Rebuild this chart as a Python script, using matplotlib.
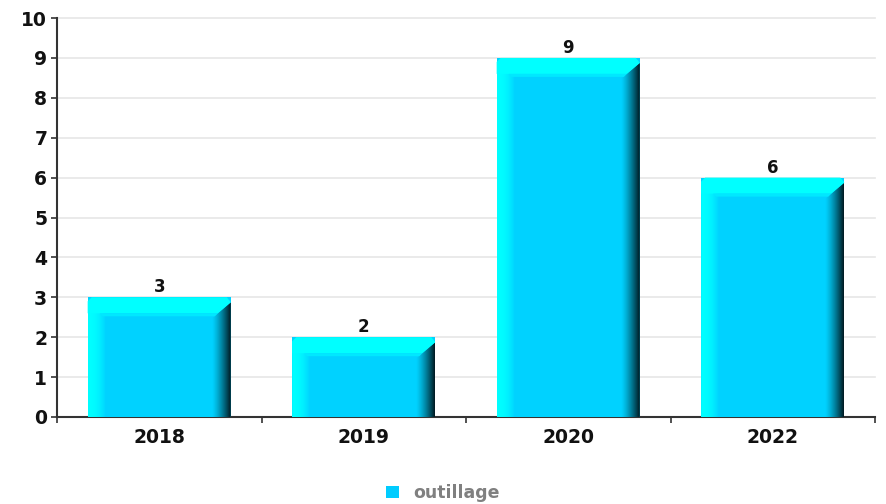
import matplotlib
matplotlib.use("Agg")
import matplotlib.pyplot as plt
import numpy as np
from matplotlib.patches import Polygon, Patch
from matplotlib.colors import to_rgb

categories = ["2018", "2019", "2020", "2022"]
values = [3, 2, 9, 6]
series_name = "outillage"

W, H, DPI = 886, 504, 100
fig = plt.figure(figsize=(W / DPI, H / DPI), dpi=DPI)
ax_l, ax_r, ax_t, ax_b = 57, 875, 18, 417
ax = fig.add_axes([ax_l / W, (H - ax_b) / H, (ax_r - ax_l) / W, (ax_b - ax_t) / H])

xlim = (-0.5, len(categories) - 0.5)
ylim = (0, 10)
px_x = (xlim[1] - xlim[0]) / (ax_r - ax_l)
px_y = (ylim[1] - ylim[0]) / (ax_b - ax_t)

main = "#00D2FF"
light = "#00FFFF"
dark = "#001820"
bar_w = 0.70

xs = np.arange(len(categories))
bars = ax.bar(xs, values, width=bar_w, color=main, zorder=3, linewidth=0)

def gradient(ax, x0, x1, y0, y1, c0, c1, clip, power=1.0):
    c0, c1 = np.array(to_rgb(c0)), np.array(to_rgb(c1))
    t = (np.linspace(0, 1, 64) ** power)[None, :, None]
    img = c0 * (1 - t) + c1 * t
    im = ax.imshow(img, extent=[x0, x1, y0, y1], aspect="auto", zorder=3.5,
                   interpolation="bilinear")
    im.set_clip_path(clip)

for b in bars:
    L = b.get_x()
    R = L + b.get_width()
    T = b.get_height()
    B = 0
    # left band gradient
    lp = Polygon([(L, B), (L + 18 * px_x, B), (L + 18 * px_x, T - 16 * px_y), (L, T - 4 * px_y)],
                 closed=True, facecolor="none", edgecolor="none", transform=ax.transData)
    ax.add_patch(lp)
    gradient(ax, L, L + 18 * px_x, B, T, light, main, lp, power=2.2)
    # top band
    top = Polygon([(L, T - 4 * px_y), (L + 4 * px_x, T), (R - 4 * px_x, T), (R, T - 5 * px_y),
                   (R - 13 * px_x, T - 16 * px_y), (L + 12 * px_x, T - 16 * px_y), (L, T - 16 * px_y)],
                  closed=True, facecolor=light, edgecolor="none", zorder=4)
    ax.add_patch(top)
    # soft transition below top band
    tp = Polygon([(L + 12 * px_x, T - 16 * px_y), (R - 13 * px_x, T - 16 * px_y),
                  (R - 16 * px_x, T - 19 * px_y), (L + 15 * px_x, T - 19 * px_y)],
                 closed=True, facecolor="#00E8FF", edgecolor="none", zorder=4)
    ax.add_patch(tp)
    # right band gradient
    rp = Polygon([(R - 19 * px_x, B), (R, B), (R, T - 5 * px_y), (R - 19 * px_x, T - 21 * px_y)],
                 closed=True, facecolor="none", edgecolor="none", transform=ax.transData)
    ax.add_patch(rp)
    gradient(ax, R - 19 * px_x, R, B, T, main, dark, rp, power=1.3)
    ax.text(b.get_x() + b.get_width() / 2, T + 1 * px_y, str(int(T)), ha="center", va="bottom",
            fontsize=12, fontweight="bold", color="#111111", zorder=5)

ax.set_xlim(*xlim)
ax.set_ylim(*ylim)
ax.set_yticks(range(0, 11))
ax.set_yticklabels([str(i) for i in range(0, 11)])
ax.set_xticks(xs)
ax.set_xticklabels(categories)
ax.set_xticks(np.arange(-0.5, len(categories)), minor=True)
ax.tick_params(axis="x", which="major", length=0, pad=8, labelsize=13.5)
ax.tick_params(axis="x", which="minor", length=4, width=1.2, color="#333333")
ax.tick_params(axis="y", length=4, width=1.2, color="#333333", pad=3, labelsize=13.5)
for lab in ax.get_xticklabels() + ax.get_yticklabels():
    lab.set_fontweight("bold")
    lab.set_color("#111111")
ax.grid(axis="y", color="#e6e6e6", linewidth=1.2, zorder=0)
for gl in ax.get_ygridlines():
    gl.set_clip_on(False)
ax.set_axisbelow(True)
for s in ["top", "right"]:
    ax.spines[s].set_visible(False)
for s in ["left", "bottom"]:
    ax.spines[s].set_color("#333333")
    ax.spines[s].set_linewidth(1.5)
    ax.spines[s].set_zorder(2.5)

leg = fig.legend(handles=[Patch(facecolor="#00CCFF", edgecolor="none", label=series_name)],
                 loc="center", bbox_to_anchor=(443 / W, 1 - 493 / H), frameon=False,
                 handlelength=0.75, handleheight=0.75, handletextpad=0.8,
                 prop={"weight": "bold", "size": 12.5})
for t in leg.get_texts():
    t.set_color("#808080")

fig.savefig("out.png", dpi=DPI)
